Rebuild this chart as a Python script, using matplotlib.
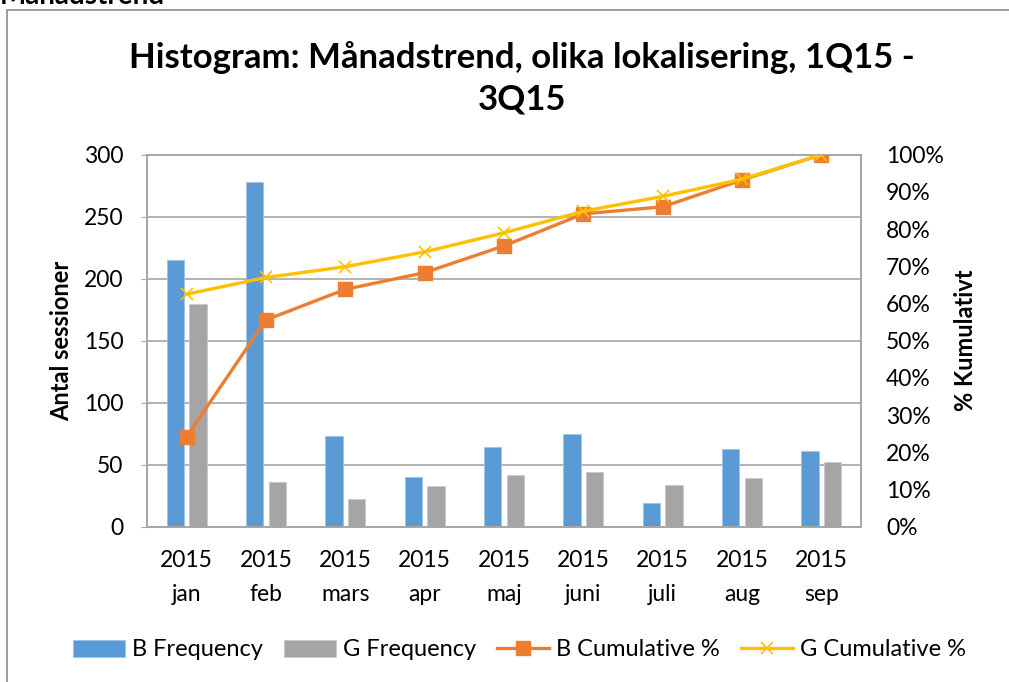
import matplotlib.pyplot as plt
import numpy as np
from matplotlib.patches import Rectangle

plt.rcParams['font.family'] = ['Lato', 'DejaVu Sans']

# data
months = ['2015\njan', '2015\nfeb', '2015\nmars', '2015\napr', '2015\nmaj',
          '2015\njuni', '2015\njuli', '2015\naug', '2015\nsep']
b_freq = [215, 278, 73, 40, 64, 75, 19, 63, 61]
g_freq = [180, 36, 22, 33, 42, 44, 34, 39, 52]
b_cum = [24.2, 55.6, 63.8, 68.3, 75.5, 84.1, 86.0, 93.2, 100]
g_cum = [62.5, 67.0, 69.9, 73.9, 79.0, 84.8, 88.8, 93.4, 100]

blue = '#5B9BD5'
gray = '#A5A5A5'
orange = '#ED7D31'
yellow = '#FFC000'
gridc = '#A6A6A6'

fig = plt.figure(figsize=(10.09, 6.82), dpi=100)
ax = fig.add_axes([147/1009, 1-526.7/682, 714/1009, 372/682])
ax2 = ax.twinx()

x = np.arange(len(months))
w = 0.22
ax.bar(x-0.142, b_freq, w, color=blue, edgecolor='#9DC3E6', linewidth=0.6, label='B Frequency', zorder=2)
ax.bar(x+0.142, g_freq, w, color=gray, edgecolor='#C9C9C9', linewidth=0.6, label='G Frequency', zorder=2)

ax2.plot(x, b_cum, color=orange, lw=2.4, marker='s', ms=10, label='B Cumulative %', zorder=3)
ax2.plot(x, g_cum, color=yellow, lw=2.4, marker='x', ms=9, mew=1.2, label='G Cumulative %', zorder=4)

ax.set_xlim(-0.5, len(months)-0.5)
ax.set_ylim(0, 300)
ax.set_yticks(np.arange(0, 301, 50))
ax2.set_ylim(0, 100)
ax2.set_yticks(np.arange(0, 101, 10))
ax2.set_yticklabels([f'{v}%' for v in range(0, 101, 10)])
ax.set_xticks(x)
ax.set_xticklabels(months, linespacing=1.75)

ax.grid(axis='y', color=gridc, lw=1.2, zorder=0)
ax.set_axisbelow(True)
for a in (ax, ax2):
    for s in a.spines.values():
        s.set_color(gridc)
        s.set_linewidth(1.2)
ax.tick_params(axis='y', length=4, color=gridc, labelsize=16.5, pad=13)
ax.tick_params(axis='x', length=0, labelsize=16.5, pad=17)
ax2.tick_params(axis='y', length=0, labelsize=16.5, pad=18)

ax.set_ylabel('Antal sessioner', fontsize=17, fontweight='bold', labelpad=8)
ax2.set_ylabel('% Kumulativt', fontsize=17, fontweight='bold', rotation=90, labelpad=7)

fig.text(0.5175, 1-78/682, 'Histogram: Månadstrend, olika lokalisering, 1Q15 -\n3Q15',
         ha='center', va='center', fontsize=25, fontweight='bold', linespacing=1.35)

fig.text(0.0, 1-4/682, 'Månadstrend', ha='left', va='baseline', fontsize=20, fontweight='bold')

fig.patches.append(Rectangle((7/1009, -0.05), 1.1, 1-10/682+0.05, transform=fig.transFigure,
                             fill=False, edgecolor='#8C8C8C', lw=1.2))

h1, l1 = ax.get_legend_handles_labels()
h2, l2 = ax2.get_legend_handles_labels()
fig.legend(h1+h2, l1+l2, loc='center', bbox_to_anchor=(0.515, 1-650/682), ncol=4,
           frameon=False, fontsize=17, handlelength=2.2, handleheight=0.7,
           columnspacing=0.9, handletextpad=0.3)

fig.savefig('out.png', dpi=100)
